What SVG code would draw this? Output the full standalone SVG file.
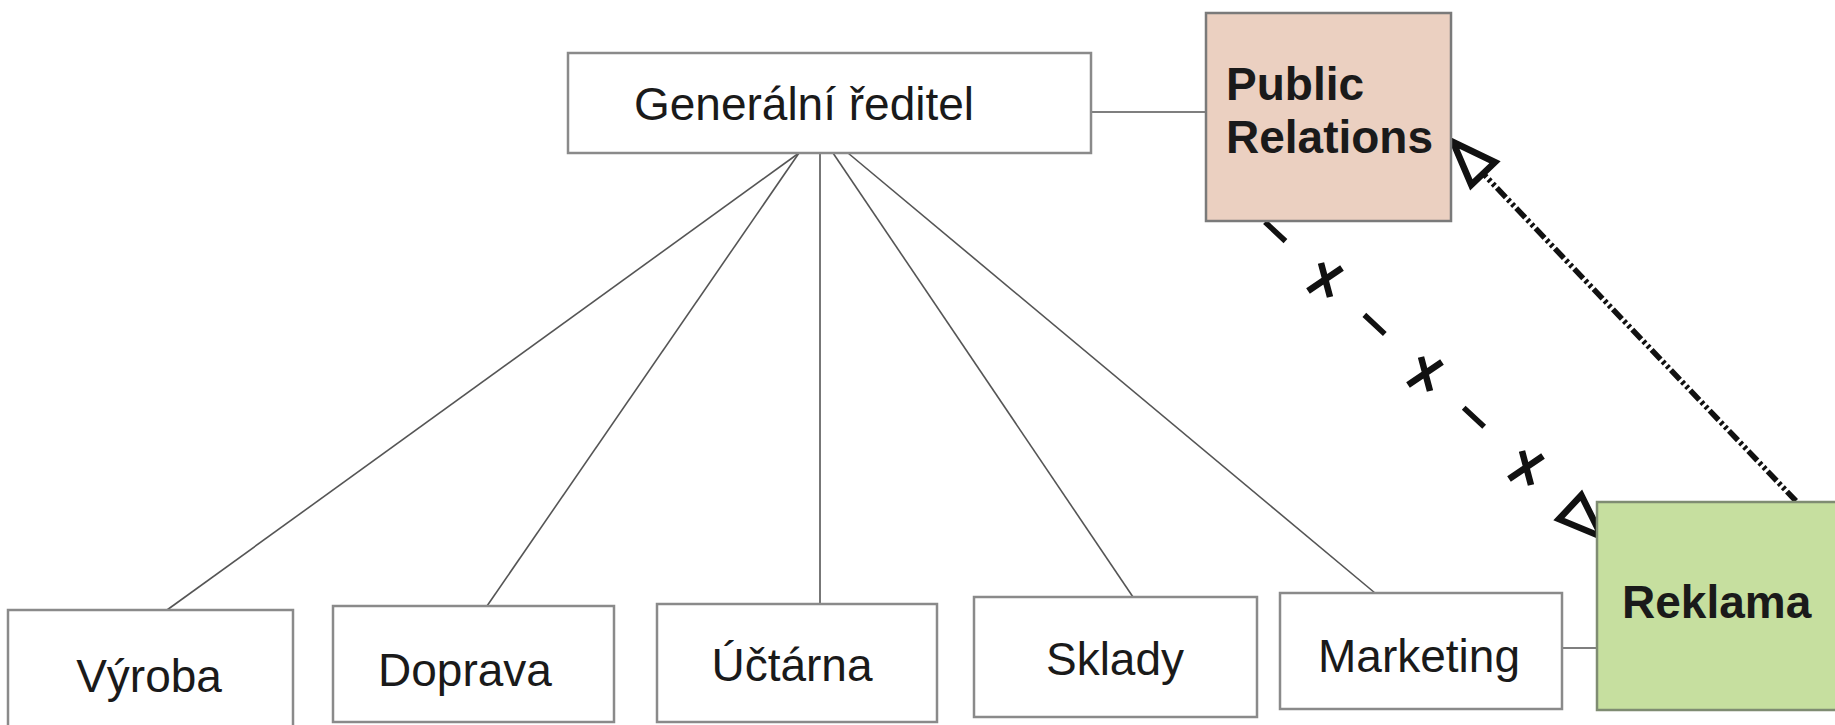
<svg xmlns="http://www.w3.org/2000/svg" xmlns:xlink="http://www.w3.org/1999/xlink" width="1835" height="725" viewBox="0 0 1835 725">
<style>
.box{fill:#ffffff;stroke:#8a8a8a;stroke-width:2.5}
.pr{fill:#ebd0c1;stroke:#7a7a7a;stroke-width:2.5}
.rk{fill:#c6df9f;stroke:#7f8c72;stroke-width:2.5}
.lbl{font-family:"Liberation Sans",Arial,sans-serif;font-size:46px;fill:#1a1a1a}
.bold{font-weight:bold}
.thin{stroke:#555555;stroke-width:1.6;fill:none}
.heavy{stroke:#111111;stroke-width:5.5;fill:none}
</style>
<defs>
<marker id="open" markerUnits="userSpaceOnUse" markerWidth="60" markerHeight="60" viewBox="-5 -5 55 45" refX="40" refY="15" orient="auto" overflow="visible">
<path d="M0,0 L40,15 L0,30 Z" fill="#ffffff" stroke="#111111" stroke-width="6" stroke-linejoin="miter"/>
</marker>
<path id="xm" d="M-17,11 L17,-12 M-4,-17 L5,17" stroke="#111111" stroke-width="6.5" fill="none" stroke-linecap="butt"/>
</defs>
<rect width="1835" height="725" fill="#ffffff"/>

<g id="connectors">
<line class="thin" x1="799" y1="153" x2="167" y2="610"/>
<line class="thin" x1="799" y1="153" x2="487" y2="606"/>
<line class="thin" x1="820" y1="153" x2="820" y2="604"/>
<line class="thin" x1="833" y1="153" x2="1133" y2="597"/>
<line class="thin" x1="848" y1="153" x2="1375" y2="593"/>
<line class="thin" x1="1091" y1="112" x2="1206" y2="112"/>
<line class="thin" x1="1562" y1="648" x2="1597" y2="648"/>
<path class="heavy" d="M1796,501 L1453,142" stroke-dasharray="13 3 3 3 3 3" marker-end="url(#open)"/>
<path class="heavy" d="M1265,222 L1602,537" stroke-dasharray="28 108 28 108 28 1000" marker-end="url(#open)"/>
<use xlink:href="#xm" x="1325" y="280"/>
<use xlink:href="#xm" x="1425" y="374"/>
<use xlink:href="#xm" x="1526" y="468"/>
</g>

<g id="n-generalni">
<rect class="box" x="568" y="53" width="523" height="100"/>
<text class="lbl" x="804" y="120" text-anchor="middle" font-size="47">Generální ředitel</text>
</g>
<g id="n-pr">
<rect class="pr" x="1206" y="13" width="245" height="208"/>
<text class="lbl bold" x="1226" y="100">Public</text>
<text class="lbl bold" x="1226" y="153">Relations</text>
</g>
<g id="n-vyroba">
<rect class="box" x="8" y="610" width="285" height="130"/>
<text class="lbl" x="149" y="692" text-anchor="middle">Výroba</text>
</g>
<g id="n-doprava">
<rect class="box" x="333" y="606" width="281" height="116"/>
<text class="lbl" x="465" y="686" text-anchor="middle">Doprava</text>
</g>
<g id="n-uctarna">
<rect class="box" x="657" y="604" width="280" height="118"/>
<text class="lbl" x="792" y="681" text-anchor="middle">Účtárna</text>
</g>
<g id="n-sklady">
<rect class="box" x="974" y="597" width="283" height="120"/>
<text class="lbl" x="1115" y="675" text-anchor="middle">Sklady</text>
</g>
<g id="n-marketing">
<rect class="box" x="1280" y="593" width="282" height="116"/>
<text class="lbl" x="1419" y="672" text-anchor="middle">Marketing</text>
</g>
<g id="n-reklama">
<rect class="rk" x="1597" y="502" width="250" height="208"/>
<text class="lbl bold" x="1622" y="618">Reklama</text>
</g>
</svg>
